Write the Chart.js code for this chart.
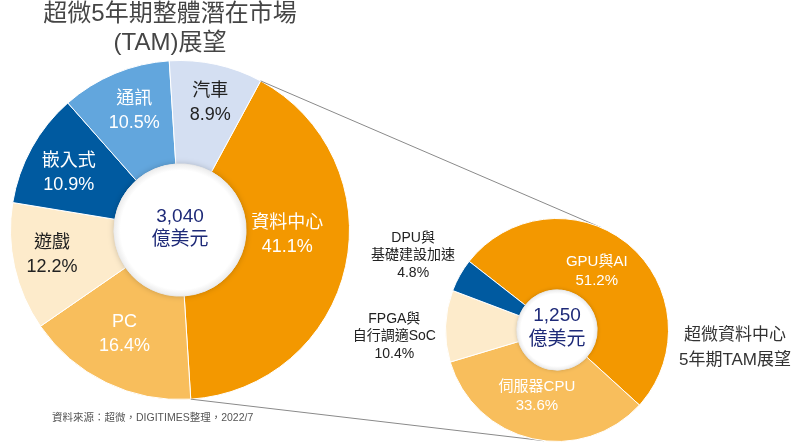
<!DOCTYPE html>
<html lang="zh-Hant">
<head>
<meta charset="utf-8">
<script src="https://cdn.jsdelivr.net/npm/chart.js@4.4.1/dist/chart.umd.min.js"></script>
<style>
  html, body { margin: 0; padding: 0; background: #fff; }
  #wrap {
    position: relative; width: 800px; height: 448px; overflow: hidden;
    font-family: "Liberation Sans", "Noto Sans CJK TC", sans-serif;
  }
  #wrap canvas { position: absolute; left: 0; top: 0; }
  .txt { position: absolute; text-align: center; white-space: nowrap; }
  #title { left: 0; width: 340px; top: -2px; font-size: 24px; line-height: 29px; color: #454545; }
  #subTitle { left: 665px; width: 140px; top: 322px; font-size: 17px; line-height: 25px; color: #333; }
  #source { left: 52px; top: 410px; font-size: 10.5px; line-height: 14px; color: #555; text-align: left; }
</style>
</head>
<body>
<div id="wrap">
  <canvas id="tamCanvas" width="800" height="448"></canvas>
  <canvas id="dcCanvas" width="800" height="448"></canvas>
  <div id="title" class="txt">超微5年期整體潛在市場<br>(TAM)展望</div>
  <div id="subTitle" class="txt">超微資料中心<br>5年期TAM展望</div>
  <div id="source" class="txt">資料來源：超微，DIGITIMES整理，2022/7</div>
</div>
<script>
// 超微5年期整體TAM (左)
const tamLabels = ['資料中心', 'PC', '遊戲', '嵌入式', '通訊', '汽車'];
const tamShares = [41.1, 16.4, 12.2, 10.9, 10.5, 8.9];
const tamTotal = ['3,040', '億美元'];

// 資料中心TAM (右)
const dcLabels = ['GPU與AI', '伺服器CPU', ['FPGA與', '自行調適SoC'], ['DPU與', '基礎建設加速']];
const dcShares = [51.2, 33.6, 10.4, 4.8];
const dcTotal = ['1,250', '億美元'];

const FONT = '"Liberation Sans", "Noto Sans CJK TC", sans-serif';
const ORANGE = '#F39800', LIGHT_ORANGE = '#F8BE5C', CREAM = '#FDEBCB';
const DARK_BLUE = '#005AA0', MID_BLUE = '#62A6DD', PALE_BLUE = '#D4DFF2';
const NAVY = '#1E2A78';

// hole with shadow, centre total, and segment labels
const ringText = {
  id: 'ringText',
  afterDatasetsDraw(chart, args, opts) {
    const ctx = chart.ctx;
    const meta = chart.getDatasetMeta(0);
    const c = meta.data[0].getProps(['x', 'y', 'innerRadius', 'outerRadius'], true);

    ctx.save();
    ctx.shadowColor = 'rgba(0,0,0,0.22)';
    ctx.shadowBlur = opts.shadowBlur;
    const g = ctx.createRadialGradient(c.x, c.y, c.innerRadius * 0.9, c.x, c.y, c.innerRadius);
    g.addColorStop(0, '#ffffff');
    g.addColorStop(1, '#ececec');
    ctx.fillStyle = g;
    ctx.beginPath();
    ctx.arc(c.x, c.y, c.innerRadius, 0, Math.PI * 2);
    ctx.fill();
    ctx.restore();

    ctx.save();
    ctx.textAlign = 'center';
    ctx.textBaseline = 'middle';
    ctx.fillStyle = NAVY;
    ctx.font = opts.totalSize + 'px ' + FONT;
    opts.total.forEach((t, k) => {
      ctx.fillText(t, c.x, c.y + (k - 0.5) * opts.totalLine - 2);
    });

    meta.data.forEach((arc, i) => {
      const p = arc.getProps(['startAngle', 'endAngle'], true);
      const mid = (p.startAngle + p.endAngle) / 2;
      const r = c.outerRadius * opts.labelRadius[i];
      const lx = c.x + Math.cos(mid) * r + opts.nudge[i][0];
      const ly = c.y + Math.sin(mid) * r + opts.nudge[i][1];
      const name = chart.data.labels[i];
      const lines = (Array.isArray(name) ? name : [name])
        .concat(chart.data.datasets[0].data[i].toFixed(1) + '%');
      ctx.fillStyle = opts.labelColor[i];
      ctx.font = opts.labelSize[i] + 'px ' + FONT;
      const lh = opts.labelLine[i];
      lines.forEach((t, k) => {
        ctx.fillText(t, lx, ly + (k - (lines.length - 1) / 2) * lh);
      });
    });
    ctx.restore();
  }
};

// tangent lines from the 資料中心 slice to the right ring
const zoomLines = {
  id: 'zoomLines',
  beforeDatasetsDraw(chart) {
    if (!window.tamChart) return;
    const s = tamChart.getDatasetMeta(0).data[0]
      .getProps(['x', 'y', 'startAngle', 'endAngle', 'outerRadius'], true);
    const d = chart.getDatasetMeta(0).data[0].getProps(['x', 'y', 'outerRadius'], true);
    const ctx = chart.ctx;
    ctx.save();
    ctx.strokeStyle = '#8a8a8a';
    ctx.lineWidth = 1;
    [s.startAngle, s.endAngle].forEach((a, k) => {
      const px = s.x + Math.cos(a) * s.outerRadius;
      const py = s.y + Math.sin(a) * s.outerRadius;
      const dist = Math.hypot(px - d.x, py - d.y);
      const th = Math.atan2(py - d.y, px - d.x);
      const al = Math.acos(d.outerRadius / dist);
      const t = [th + al, th - al].map(b => ({
        x: d.x + Math.cos(b) * d.outerRadius,
        y: d.y + Math.sin(b) * d.outerRadius
      }));
      t.sort((m, n) => m.y - n.y);
      const q = k === 0 ? t[0] : t[1];
      ctx.beginPath();
      ctx.moveTo(px, py);
      ctx.lineTo(q.x, q.y);
      ctx.stroke();
    });
    ctx.restore();
  }
};

const baseOptions = {
  responsive: false,
  animation: false,
  events: [],
  plugins: { legend: { display: false }, tooltip: { enabled: false }, title: { display: false } }
};

window.tamChart = new Chart(document.getElementById('tamCanvas'), {
  type: 'doughnut',
  data: {
    labels: tamLabels,
    datasets: [{
      data: tamShares,
      backgroundColor: [ORANGE, LIGHT_ORANGE, CREAM, DARK_BLUE, MID_BLUE, PALE_BLUE],
      borderColor: '#ffffff',
      borderWidth: 1,
      hoverOffset: 0
    }]
  },
  options: {
    ...baseOptions,
    rotation: 28.4,
    cutout: '39%',
    layout: { padding: { left: 10, right: 450, top: 60, bottom: 48 } },
    plugins: {
      ...baseOptions.plugins,
      ringText: {
        total: tamTotal, totalSize: 19, totalLine: 23, shadowBlur: 6,
        labelRadius: [0.75, 0.75, 0.75, 0.75, 0.75, 0.75],
        nudge: [[-17, -22], [0, -10], [-4, -3], [0, 5], [3, -2], [3, -3]],
        labelColor: ['#fff', '#fff', '#222', '#fff', '#fff', '#222'],
        labelSize: [18, 18, 18, 18, 18, 18],
        labelLine: [24, 24, 24, 24, 24, 24]
      }
    }
  },
  plugins: [ringText]
});

const dcChart = new Chart(document.getElementById('dcCanvas'), {
  type: 'doughnut',
  data: {
    labels: dcLabels,
    datasets: [{
      data: dcShares,
      backgroundColor: [ORANGE, LIGHT_ORANGE, CREAM, DARK_BLUE],
      borderColor: '#ffffff',
      borderWidth: 1,
      hoverOffset: 0
    }]
  },
  options: {
    ...baseOptions,
    rotation: -52,
    cutout: '36%',
    layout: { padding: { left: 445, right: 131, top: 218, bottom: 6 } },
    plugins: {
      ...baseOptions.plugins,
      ringText: {
        total: dcTotal, totalSize: 19, totalLine: 24, shadowBlur: 4,
        labelRadius: [0.65, 0.65, 1.46, 1.46],
        nudge: [[-7, -3], [-4, -4], [0, 12], [-2, 5]],
        labelColor: ['#fff', '#fff', '#222', '#222'],
        labelSize: [15, 15, 14, 14],
        labelLine: [19, 19, 17.5, 17.5]
      }
    }
  },
  plugins: [zoomLines, ringText]
});
</script>
</body>
</html>
